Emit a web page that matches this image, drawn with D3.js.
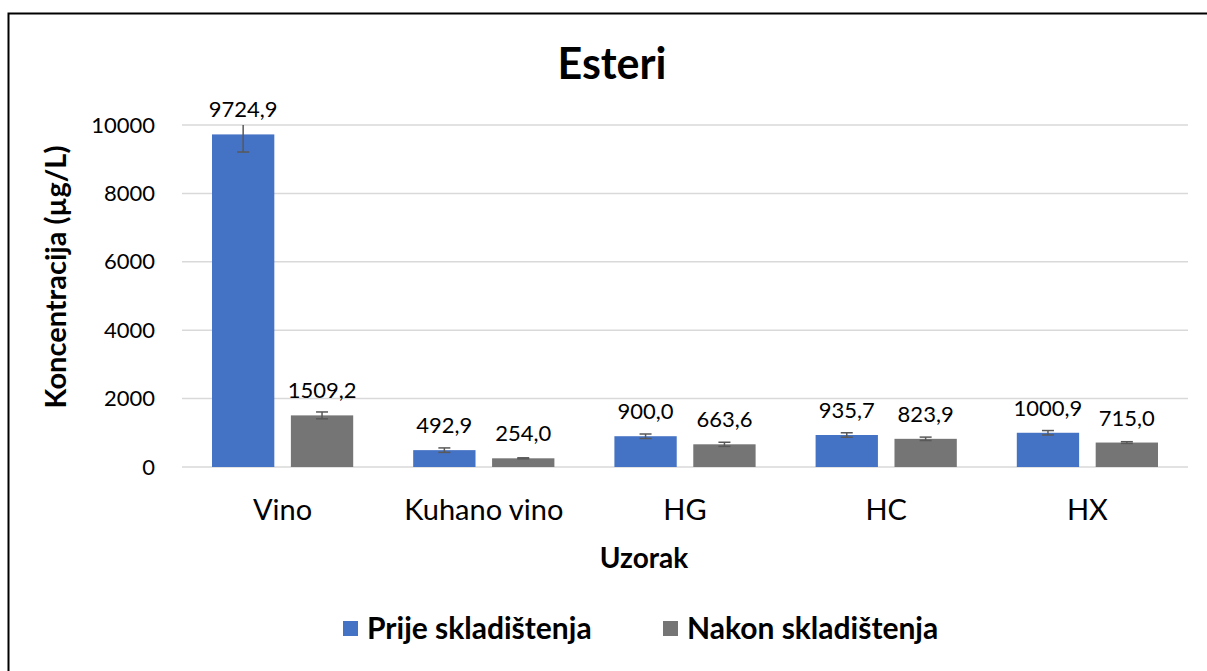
<!DOCTYPE html>
<html lang="hr">
<head>
<meta charset="UTF-8">
<title>Esteri</title>
<script src="https://d3js.org/d3.v7.min.js"></script>
<style>
  body { margin: 0; background: #fff; }
  svg { display: block; font-family: Lato, "Liberation Sans", sans-serif; }
</style>
</head>
<body>
<svg id="chart" width="1207" height="671"></svg>
<script>
// data
const categories = ['Vino', 'Kuhano vino', 'HG', 'HC', 'HX'];
const seriesNames = ['Prije skladištenja', 'Nakon skladištenja'];
const prije = [9724.9, 492.9, 900.0, 935.7, 1000.9];
const nakon = [1509.2, 254.0, 663.6, 823.9, 715.0];
const prijeErr = [515, 65, 65, 65, 65];
const nakonErr = [100, 15, 60, 50, 25];
const yTicks = [0, 2000, 4000, 6000, 8000, 10000];
const colors = ['#4472C4', '#757575'];

const svg = d3.select('#chart');
const plot = { left: 182, right: 1188, top: 125, bottom: 467 };

// chart frame (right / bottom edges fall outside the picture)
svg.append('rect')
    .attr('x', 8.5).attr('y', 13.5)
    .attr('width', 1300).attr('height', 800)
    .attr('fill', 'none').attr('stroke', '#000').attr('stroke-width', 2);

const x0 = d3.scaleBand()
    .domain(categories)
    .range([plot.left, plot.right]);

const x1 = d3.scaleBand()
    .domain(seriesNames)
    .range([30, x0.bandwidth() - 30])
    .paddingInner(0.21);

const y = d3.scaleLinear()
    .domain([0, 10000])
    .range([plot.bottom, plot.top]);

// gridlines
svg.append('g')
    .selectAll('line')
    .data(yTicks)
    .join('line')
    .attr('x1', plot.left).attr('x2', plot.right)
    .attr('y1', d => y(d)).attr('y2', d => y(d))
    .attr('stroke', '#d9d9d9').attr('stroke-width', 1.5);

// y axis labels
const yAxis = d3.axisLeft(y).tickValues(yTicks).tickSize(0).tickPadding(0).tickFormat(d3.format('d'));
svg.append('g')
    .attr('transform', 'translate(155,0)')
    .call(yAxis)
    .call(g => g.select('.domain').remove())
    .selectAll('text')
    .attr('font-family', 'Lato, sans-serif')
    .attr('font-size', 22)
    .attr('fill', '#000');

// x axis labels
const xAxis = d3.axisBottom(x0).tickSize(0).tickPadding(0);
svg.append('g')
    .attr('transform', 'translate(0,499)')
    .call(xAxis)
    .call(g => g.select('.domain').remove())
    .selectAll('text')
    .attr('font-family', 'Lato, sans-serif')
    .attr('font-size', 29)
    .attr('fill', '#000');

// rows: one per category and series
const rows = [];
categories.forEach((c, i) => {
    rows.push({ cat: c, s: seriesNames[0], v: prije[i], e: prijeErr[i], color: colors[0] });
    rows.push({ cat: c, s: seriesNames[1], v: nakon[i], e: nakonErr[i], color: colors[1] });
});

svg.append('defs').append('clipPath').attr('id', 'plotClip')
    .append('rect')
    .attr('x', plot.left).attr('y', plot.top)
    .attr('width', plot.right - plot.left).attr('height', plot.bottom - plot.top);

const bars = svg.append('g');
bars.selectAll('rect')
    .data(rows)
    .join('rect')
    .attr('x', d => x0(d.cat) + x1(d.s))
    .attr('y', d => y(d.v))
    .attr('width', x1.bandwidth())
    .attr('height', d => y(0) - y(d.v))
    .attr('fill', d => d.color);

// error bars
const err = svg.append('g')
    .attr('clip-path', 'url(#plotClip)')
    .attr('stroke', '#595959')
    .attr('stroke-width', 1.5);
const cx = d => x0(d.cat) + x1(d.s) + x1.bandwidth() / 2;
err.selectAll('.stem')
    .data(rows)
    .join('line')
    .attr('x1', cx).attr('x2', cx)
    .attr('y1', d => y(d.v + d.e)).attr('y2', d => y(d.v - d.e));
err.selectAll('.capTop')
    .data(rows)
    .join('line')
    .attr('x1', d => cx(d) - 6).attr('x2', d => cx(d) + 6)
    .attr('y1', d => y(d.v + d.e)).attr('y2', d => y(d.v + d.e));
err.selectAll('.capBottom')
    .data(rows)
    .join('line')
    .attr('x1', d => cx(d) - 6).attr('x2', d => cx(d) + 6)
    .attr('y1', d => y(d.v - d.e)).attr('y2', d => y(d.v - d.e));

// data labels
const fmt = v => d3.format('.1f')(v).replace('.', ',');
svg.append('g')
    .selectAll('text')
    .data(rows)
    .join('text')
    .attr('x', cx)
    .attr('y', d => y(d.v) - 17)
    .attr('text-anchor', 'middle')
    .attr('font-size', 22)
    .text(d => fmt(d.v));

// titles
svg.append('text')
    .attr('x', 612).attr('y', 79)
    .attr('text-anchor', 'middle')
    .attr('font-weight', 'bold')
    .attr('font-size', 43)
    .text('Esteri');

svg.append('text')
    .attr('x', 644).attr('y', 568)
    .attr('text-anchor', 'middle')
    .attr('font-weight', 'bold')
    .attr('font-size', 28)
    .text('Uzorak');

svg.append('text')
    .attr('transform', 'translate(66,277) rotate(-90)')
    .attr('text-anchor', 'middle')
    .attr('font-weight', 'bold')
    .attr('font-size', 29)
    .text('Koncentracija (µg/L)');

// legend
const legendX = [343, 663];
const legend = svg.append('g')
    .selectAll('g')
    .data(seriesNames)
    .join('g')
    .attr('transform', (d, i) => `translate(${legendX[i]},621)`);
legend.append('rect')
    .attr('width', 15).attr('height', 15)
    .attr('fill', (d, i) => colors[i]);
legend.append('text')
    .attr('x', 24).attr('y', 18)
    .attr('font-weight', 'bold')
    .attr('font-size', 30)
    .text(d => d);
</script>
</body>
</html>
